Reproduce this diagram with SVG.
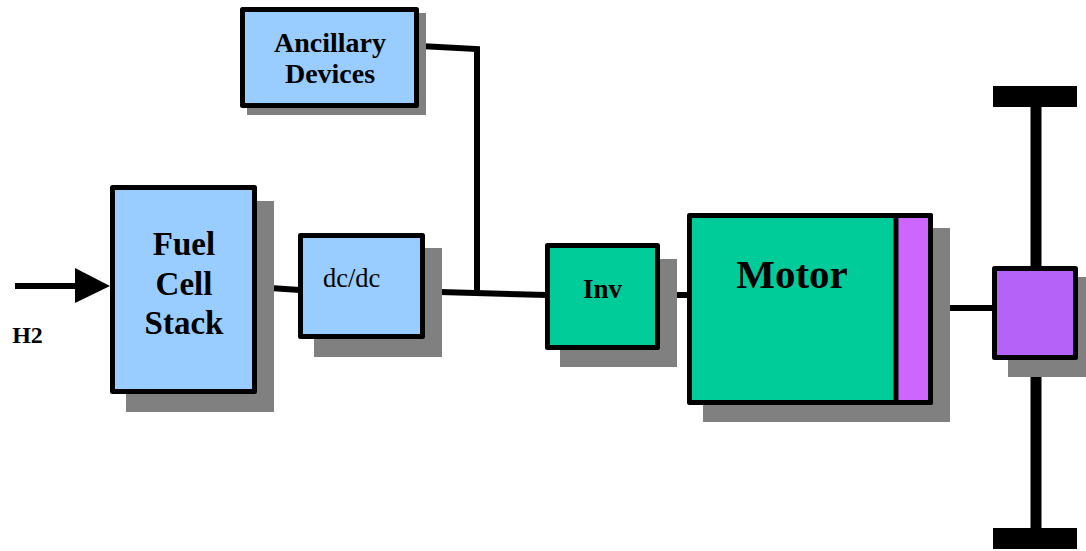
<svg xmlns="http://www.w3.org/2000/svg" width="1086" height="551" viewBox="0 0 1086 551">
<style>
.box{stroke:#000;stroke-width:5;stroke-linejoin:round}
.shadow{fill:#808080}
.blue{fill:#99CCFF}
.green{fill:#00CC99}
.wire{stroke:#000;stroke-width:6;fill:none}
.t{font-family:"Liberation Serif","Times New Roman",serif;font-weight:bold;fill:#000;text-anchor:middle}
</style>
<rect width="1086" height="551" fill="#fff"/>
<g id="connectors">
<line class="wire" x1="15" y1="286" x2="78" y2="286"/>
<polygon points="75,268 110,286 75,303" fill="#000"/>
<polyline class="wire" points="255,287 300,290"/>
<polyline class="wire" points="440,292 547,295"/>
<polyline class="wire" points="420,46 477,49 477,293"/>
<line class="wire" x1="658" y1="295" x2="690" y2="295"/>
<line class="wire" x1="936" y1="308" x2="994" y2="308"/>
<line x1="1036" y1="100" x2="1036" y2="535" stroke="#000" stroke-width="11"/>
<rect x="993" y="86" width="84" height="21" fill="#000"/>
<rect x="993" y="528" width="84" height="21" fill="#000"/>
</g>
<g id="fuel-cell-stack">
<rect class="shadow" x="126" y="201" width="148" height="211"/>
<rect class="box blue" x="112.5" y="187.5" width="142" height="204"/>
<text class="t" font-size="33" x="184" y="255">Fuel</text>
<text class="t" font-size="33" x="184" y="295">Cell</text>
<text class="t" font-size="33" x="184" y="334">Stack</text>
</g>
<g id="h2-label">
<text class="t" font-size="24" x="27.5" y="343">H2</text>
</g>
<g id="ancillary-devices">
<rect class="shadow" x="247" y="13" width="179" height="102"/>
<rect class="box blue" x="242.5" y="9.5" width="174" height="96"/>
<text class="t" font-size="28" x="330" y="52">Ancillary</text>
<text class="t" font-size="28" x="330" y="83">Devices</text>
</g>
<g id="dcdc">
<rect class="shadow" x="314" y="248" width="128" height="109"/>
<rect class="box blue" x="300.5" y="235.5" width="122" height="101"/>
<text font-family="Liberation Serif,Times New Roman,serif" font-size="26.5" x="323" y="287">dc/dc</text>
</g>
<g id="inverter">
<rect class="shadow" x="560" y="259" width="117" height="108"/>
<rect class="box green" x="547.5" y="245.5" width="110" height="102"/>
<text class="t" font-size="27" x="602.5" y="298">Inv</text>
</g>
<g id="motor">
<rect class="shadow" x="703" y="228" width="247" height="194"/>
<rect class="box green" x="689.5" y="215.5" width="241" height="187"/>
<rect x="896" y="215.5" width="34.5" height="187" fill="#CC66FF" stroke="#000" stroke-width="5" stroke-linejoin="round"/>
<text class="t" font-size="41" x="792" y="288">Motor</text>
</g>
<g id="gearbox">
<rect class="shadow" x="1008" y="277" width="80" height="100"/>
<rect class="box" fill="#B462F7" x="994.5" y="268.5" width="81" height="89"/>
</g>
</svg>
